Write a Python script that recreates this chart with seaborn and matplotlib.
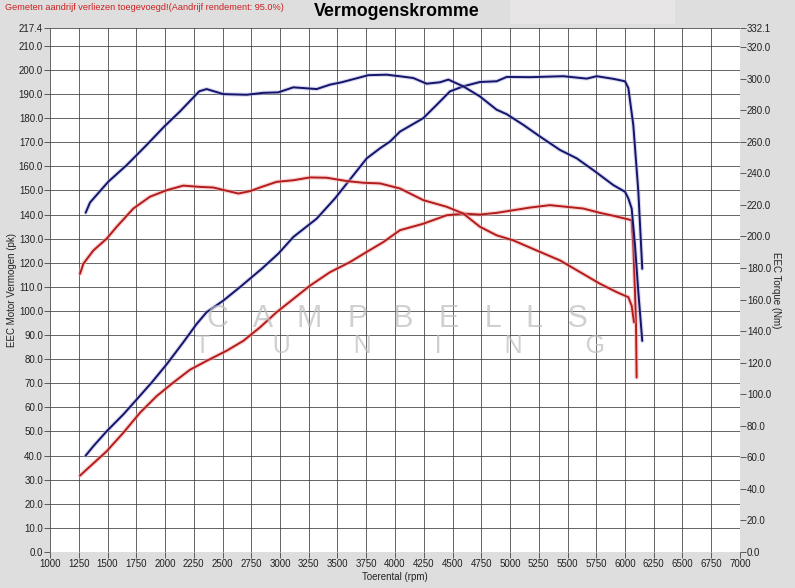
import matplotlib
matplotlib.use("Agg")
import matplotlib.pyplot as plt
import matplotlib.patheffects as pe
from matplotlib.patches import Rectangle
import seaborn as sns
import pandas as pd

# ---------------- data ----------------
blue_torque_rpm = [1310, 1348, 1507, 1667, 1841, 1994, 2130, 2298, 2362, 2507, 2710, 2855, 2985,
                   3116, 3319, 3435, 3536, 3768, 3928, 4043, 4159, 4275, 4391, 4464, 4594, 4739,
                   4884, 4971, 5116, 5261, 5435, 5580, 5725, 5899, 6000, 6029, 6058, 6087, 6116, 6150]
blue_torque_nm = [215.0, 221.5, 234.7, 245.2, 258.0, 269.7, 279.2, 292.0, 293.4, 290.2, 289.8, 291.0, 291.3,
                  294.5, 293.4, 296.2, 297.7, 302.2, 302.5, 301.5, 300.4, 296.8, 297.7, 299.4, 295.1, 288.7,
                  280.3, 277.5, 270.7, 263.3, 254.8, 249.5, 242.0, 232.5, 228.3, 224.1, 217.7, 194.3, 164.7, 133.8]

blue_power_rpm = [1310, 1377, 1493, 1638, 1754, 1884, 2015, 2159, 2275, 2362, 2507, 2652, 2841, 2986,
                  3116, 3319, 3478, 3754, 3870, 3957, 4043, 4246, 4362, 4478, 4594, 4739, 4884, 4971,
                  5174, 5464, 5667, 5754, 5899, 6000, 6029, 6072, 6116, 6150]
blue_power_pk = [40.0, 43.9, 50.1, 57.1, 63.3, 70.3, 77.9, 87.0, 94.6, 99.5, 104.3, 109.9, 117.5, 123.8,
                 130.7, 138.3, 146.7, 163.3, 167.5, 170.3, 174.4, 180.0, 185.5, 191.1, 193.2, 195.0, 195.3, 197.1,
                 197.0, 197.4, 196.4, 197.4, 196.3, 195.3, 192.5, 177.2, 149.5, 117.5]

red_torque_rpm = [1261, 1290, 1377, 1493, 1580, 1725, 1870, 2015, 2159, 2304, 2420, 2638, 2739, 2841,
                  2971, 3116, 3261, 3406, 3580, 3725, 3870, 4043, 4246, 4449, 4594, 4739, 4884, 5029,
                  5232, 5435, 5609, 5783, 5928, 6029, 6058, 6078]
red_torque_nm = [176.3, 182.7, 191.1, 198.6, 206.1, 217.7, 225.2, 229.3, 232.2, 231.4, 231.0, 227.2, 228.7, 231.4,
                 234.6, 235.6, 237.4, 237.2, 235.1, 234.0, 233.6, 230.4, 223.0, 218.8, 214.5, 206.1, 200.7, 197.5,
                 191.1, 184.8, 177.4, 170.0, 164.7, 161.5, 156.1, 145.6]

red_power_rpm = [1261, 1348, 1493, 1638, 1783, 1928, 2072, 2217, 2362, 2536, 2681, 2826, 2971, 3116,
                 3261, 3435, 3609, 3754, 3899, 4043, 4246, 4449, 4594, 4739, 4884, 5029, 5174, 5348,
                 5493, 5638, 5783, 5899, 6029, 6058, 6072, 6087, 6096, 6101]
red_power_pk = [31.7, 35.5, 41.8, 49.5, 57.8, 64.7, 70.3, 75.6, 79.3, 83.5, 87.6, 93.2, 99.5, 105.0,
                110.5, 116.1, 120.3, 124.5, 128.6, 133.5, 136.2, 139.7, 140.4, 140.0, 140.7, 141.8, 142.9, 143.9,
                143.2, 142.5, 140.7, 139.5, 138.0, 137.6, 127.2, 107.8, 93.9, 72.4]

x_ticks = list(range(1000, 7001, 250))
left_ticks = [float(v) for v in range(0, 211, 10)] + [217.4]
right_ticks = [float(v) for v in range(0, 321, 20)] + [332.1]

title = "Vermogenskromme"
note = "Gemeten aandrijf verliezen toegevoegd!(Aandrijf rendement: 95.0%)"
watermark_top = "C   A   M   P   B   E   L   L   S"
watermark_bottom = "T         U         N         I         N         G"

# ---------------- style ----------------
sns.set_theme(style="white")
plt.rcParams['font.family'] = ['Liberation Sans', 'DejaVu Sans']

BG = '#dedede'
BLUE = '#14146a'
RED = '#b41c1c'
TXT = '#222222'

fig = plt.figure(figsize=(7.95, 5.88), dpi=100, facecolor=BG)
ax = fig.add_axes([50 / 795, 36 / 588, 690 / 795, 524 / 588])
ax.set_facecolor('white')
ax2 = ax.twinx()

fig.patches.append(Rectangle((510 / 795, 1 - 24 / 588), 165 / 795, 24 / 588,
                             transform=fig.transFigure, facecolor='#e8e5e7', edgecolor='none', zorder=0))

df_bp = pd.DataFrame({'rpm': blue_power_rpm, 'v': blue_power_pk})
df_rp = pd.DataFrame({'rpm': red_power_rpm, 'v': red_power_pk})
df_bt = pd.DataFrame({'rpm': blue_torque_rpm, 'v': blue_torque_nm})
df_rt = pd.DataFrame({'rpm': red_torque_rpm, 'v': red_torque_nm})

glow_b = [pe.withStroke(linewidth=3.0, foreground='#a8a8dc', alpha=0.45)]
glow_r = [pe.withStroke(linewidth=3.2, foreground='#f2a8a8', alpha=0.5)]

sns.lineplot(data=df_rp, x='rpm', y='v', ax=ax, color=RED, lw=1.4, estimator=None, path_effects=glow_r, zorder=3)
sns.lineplot(data=df_bp, x='rpm', y='v', ax=ax, color=BLUE, lw=1.4, estimator=None, path_effects=glow_b, zorder=3)
sns.lineplot(data=df_rt, x='rpm', y='v', ax=ax2, color=RED, lw=1.4, estimator=None, path_effects=glow_r, zorder=3)
sns.lineplot(data=df_bt, x='rpm', y='v', ax=ax2, color=BLUE, lw=1.4, estimator=None, path_effects=glow_b, zorder=3)

ax.set_xlim(1000, 7000)
ax.set_ylim(0, 217.4)
ax2.set_ylim(0, 332.1)

ax.set_xticks(x_ticks)
ax.set_xticklabels([str(t) for t in x_ticks], fontsize=7, color=TXT)
ax.set_yticks(left_ticks)
ax.set_yticklabels([f"{t:.1f}" for t in left_ticks], fontsize=7, color=TXT)
ax2.set_yticks(right_ticks)
ax2.set_yticklabels([f"{t:.1f}" for t in right_ticks], fontsize=7, color=TXT)

for a in (ax, ax2):
    for s in a.spines.values():
        s.set_visible(False)
    a.tick_params(length=4, width=0.6, color='#444444', pad=1)
ax.tick_params(axis='both', bottom=True, left=True)
ax2.tick_params(axis='y', right=True)

ax.grid(True, color='#3a3a3a', lw=0.55)
ax.set_axisbelow(True)
ax2.grid(False)

ax.set_xlabel("Toerental (rpm)", fontsize=7, color=TXT, labelpad=2)
ax.set_ylabel("EEC Motor Vermogen (pk)", fontsize=7, color=TXT, labelpad=1)
ax2.set_ylabel("EEC Torque (Nm)", fontsize=7, color=TXT, rotation=270, labelpad=7)

fig.text(397 / 795, 1 - 11 / 588, title, ha='center', va='center', fontsize=12.8, fontweight='bold', color='black')
fig.text(5 / 795, 1 - 7 / 588, note, ha='left', va='center', fontsize=6.6, color='#cc2020')

# watermark
fig.text(397 / 795, 1 - 319 / 588, watermark_top, ha='center', va='center', fontsize=22,
         color='#bdbdbd', alpha=0.7, zorder=5)
fig.text(400 / 795, 1 - 346 / 588, watermark_bottom, ha='center', va='center', fontsize=18,
         color='#bdbdbd', alpha=0.7, zorder=5)

fig.savefig("out.png", dpi=100, facecolor=BG)
